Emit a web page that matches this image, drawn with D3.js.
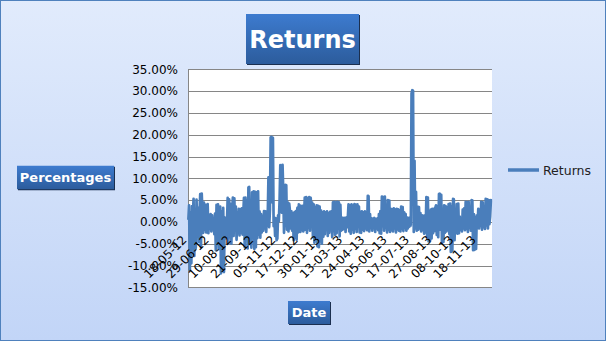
<!DOCTYPE html>
<html>
<head>
<meta charset="utf-8">
<script src="https://cdn.jsdelivr.net/npm/d3@7"></script>
<style>
  html, body { margin: 0; padding: 0; background: #fff; }
  svg { display: block; font-family: 'DejaVu Sans', sans-serif; }
</style>
</head>
<body>
<svg id="chart" width="606" height="341"></svg>
<script>
// daily returns in percent (30 trading days per block)
const returns = [
  // 18-05-12
  0.5, 3.8, -11, 2.1, -9.5, 3.6, 1.2, 5.3, -7.8, 2.4, -6, 5.1, -1.5, 3.2, -4.6, 1.8, 6.4, -5.8, 6.5, 2.2, -2.5, 4.4, -1.8, 3.9, -2.4, 0.8, 4.1, -2.6, 1.5, -0.8,
  // 29-06-12
  1.8, -2.2, 1.5, -1.2, 0.6, -2.8, 1.9, -6.5, 3.9, -4.2, 4.0, -6.2, 2.7, 3.5, -11.8, 2.4, -10.5, 3.2, -11.5, 1.0, -3.8, 0.4, -0.8, 5.5, -4.9, 5.2, -3.5, 4.1, -5.0, 2.6,
  // 10-08-12
  5.6, -3.2, 5.4, -1.8, 3.5, -4.1, 2.2, -2.6, 3.0, -3.1, 2.8, -2.4, 3.1, -2.9, 1.7, 5.5, -5.8, 5.6, -3.4, 4.8, -6.1, 7.9, 8.0, -4.5, 3.2, -5.9, 6.8, -2.2, 7.0, -6.2,
  // 21-09-12
  6.9, -5.8, 6.8, -3.7, 7.0, -2.9, 2.4, -3.6, 1.8, -2.4, 1.2, -2.0, 2.5, -1.5, 2.4, -2.3, 1.6, 0.9, 10.2, -1.2, 2.8, 19.4, 19.5, 4.5, 19.3, -1.0, 1.0, -3.2, 0.8, -4.2,
  // 05-11-12
  -3.8, 1.5, 0.2, 4.8, 13.0, 12.9, 2.1, 13.1, 6.9, -2.5, 3.2, 8.5, 8.4, -1.8, 4.5, -2.2, 4.2, 2.5, -1.5, 2.4, -2.0, 1.9, -4.2, 2.2, -3.6, 2.5, -4.1, 3.2, -2.4, 4.0,
  // 17-12-12
  3.8, -2.3, 3.6, -1.9, 3.7, -2.2, 1.5, 5.6, -1.8, 5.7, -2.5, 5.4, -1.4, 5.7, -2.0, 5.5, -0.8, 4.4, -3.5, 4.0, -4.8, 3.2, -3.9, 3.8, -5.6, 3.7, -5.8, 3.5, -4.5, 2.6,
  // 30-01-13
  -5.0, 2.2, -3.4, 2.4, -2.8, 2.2, -1.6, 2.4, -3.2, 1.9, -2.5, 2.3, -1.9, 2.4, -3.5, 4.5, -2.1, 4.6, -3.0, 4.4, -2.6, 4.6, -1.5, 4.5, -3.3, 3.9, -2.0, 1.0, -1.8, 0.9,
  // 13-03-13
  -1.5, 0.9, -2.3, 1.0, -1.2, 0.8, 4.0, -2.2, 3.8, -2.7, 4.0, -1.8, 3.6, -2.5, 4.1, -1.6, 3.9, -2.3, 4.0, -1.0, 3.5, -2.4, 2.3, -2.5, 2.4, -1.8, 2.2, -2.1, 2.4, -1.5,
  // 24-04-13
  2.1, -1.9, 6.0, 5.9, -2.2, 1.8, -1.4, 0.8, -2.0, 0.7, -1.1, 0.9, -2.3, 0.6, -1.5, 0.8, -1.9, 1.8, -2.6, 2.5, -2.7, 5.8, -1.0, 5.7, -2.0, 5.8, -1.4, 2.8, -2.4, 5.0,
  // 05-06-13
  -1.8, 4.9, -2.3, 3.0, -1.9, 2.9, -2.2, 3.1, -1.5, 2.8, -2.4, 3.0, -1.7, 2.9, -2.0, 2.6, -2.2, 3.5, -1.6, 3.4, -2.1, 2.2, -1.4, 1.8, -2.0, 1.0, -1.5, 0.9, -1.1, 1.0,
  // 17-07-13
  -0.8, 29.5, 30.2, 30.1, -2.3, 14.0, -1.5, 6.9, -2.0, 3.5, -1.8, 3.4, -1.5, 2.0, -2.2, 1.5, -1.8, 1.4, -2.7, 1.5, -2.4, 5.7, -3.3, 5.6, -4.5, 2.4, -4.4, 2.8, -3.8, 3.0,
  // 27-08-13
  -2.6, 3.0, -2.1, 3.2, 3.8, -3.0, 3.7, -3.5, 6.4, 6.5, -1.8, 6.2, -4.8, 2.5, -4.6, 3.8, -2.5, 3.6, -2.2, 3.2, -1.9, 4.1, -2.8, 4.2, -6.9, 3.5, -6.7, 5.3, 5.2, -4.2,
  // 08-10-13
  2.8, -2.5, 4.1, -2.7, 4.2, -2.6, 1.2, -1.8, 0.6, -2.2, 2.8, -1.5, 3.1, -1.9, 4.6, -1.6, 4.5, -2.3, 4.6, -1.4, 2.9, -2.0, 5.0, 4.9, -6.5, 1.8, -6.4, 0.9, -6.2, 1.5,
  // 18-11-13
  -1.2, 3.0, -1.5, 2.9, -0.9, 4.6, -1.8, 4.5, -1.2, 1.5, -1.6, 5.3, -0.8, 5.2, -1.5, 5.0, -0.5, 1.2, 5.0, 4.9
]

const dateLabels = ['18-05-12', '29-06-12', '10-08-12', '21-09-12', '05-11-12', '17-12-12', '30-01-13',
  '13-03-13', '24-04-13', '05-06-13', '17-07-13', '27-08-13', '08-10-13', '18-11-13']
const labelEvery = 30

const yTicks = [-15, -10, -5, 0, 5, 10, 15, 20, 25, 30, 35]

const seriesName = 'Returns'
const chartTitle = 'Returns'
const xTitle = 'Date'
const yTitle = 'Percentages'

const W = 606
const H = 341
const plot = { left: 188, right: 492, top: 69.3, bottom: 287.3 }
const lineColor = '#4a7ebb'
const gridColor = '#868686'

const svg = d3.select('#chart')
const defs = svg.append('defs')

// chart background
const bg = defs.append('linearGradient')
  .attr('id', 'bg').attr('x1', 0).attr('y1', 0).attr('x2', 0).attr('y2', 1)
bg.append('stop').attr('offset', '0%').attr('stop-color', '#e1ebfc')
bg.append('stop').attr('offset', '100%').attr('stop-color', '#c2d5f7')

const boxFill = defs.append('linearGradient')
  .attr('id', 'box').attr('x1', 0).attr('y1', 0).attr('x2', 0).attr('y2', 1)
boxFill.append('stop').attr('offset', '0%').attr('stop-color', '#3d7bcf')
boxFill.append('stop').attr('offset', '100%').attr('stop-color', '#2c5c9c')

svg.append('rect')
  .attr('x', 0.5).attr('y', 0.5)
  .attr('width', W - 1).attr('height', H - 1)
  .attr('fill', 'url(#bg)')
  .attr('stroke', '#4f81bd')

// plot area
svg.append('rect')
  .attr('x', plot.left).attr('y', plot.top)
  .attr('width', plot.right - plot.left).attr('height', plot.bottom - plot.top)
  .attr('fill', '#fff')

const x = d3.scaleBand()
  .domain(d3.range(returns.length))
  .range([plot.left, plot.right])

const y = d3.scaleLinear()
  .domain([yTicks[0], yTicks[yTicks.length - 1]])
  .range([plot.bottom, plot.top])

const cx = i => x(i) + x.bandwidth() / 2

// gridlines
svg.append('g')
  .selectAll('line')
  .data(yTicks)
  .enter().append('line')
  .attr('x1', plot.left).attr('x2', plot.right)
  .attr('y1', d => Math.round(y(d)) + 0.5)
  .attr('y2', d => Math.round(y(d)) + 0.5)
  .attr('stroke', gridColor)
  .attr('stroke-width', 1)

// y axis
const yAxis = svg.append('g')
  .attr('transform', `translate(${plot.left},0)`)
  .call(d3.axisLeft(y).tickValues(yTicks).tickSize(0).tickPadding(10)
    .tickFormat(d => d.toFixed(2) + '%'))

yAxis.select('.domain')
  .attr('stroke', gridColor)
  .attr('d', `M0.5,${plot.top}V${plot.bottom}`)

yAxis.selectAll('text')
  .attr('font-size', 12)
  .attr('font-family', "'DejaVu Sans', sans-serif")
  .attr('fill', '#000')

// the series
const line = d3.line()
  .x((d, i) => cx(i))
  .y(d => y(d))

svg.append('path')
  .datum(returns)
  .attr('d', line)
  .attr('fill', 'none')
  .attr('stroke', lineColor)
  .attr('stroke-width', 2.7)
  .attr('stroke-linejoin', 'round')

// x axis crosses at 0
const y0 = Math.round(y(0)) + 0.5
const xAxis = svg.append('g')
  .attr('transform', `translate(0,${y0})`)
  .call(d3.axisBottom(x)
    .tickValues(dateLabels.map((d, i) => i * labelEvery))
    .tickSize(0)
    .tickFormat(i => dateLabels[i / labelEvery]))

xAxis.select('.domain').remove()

xAxis.selectAll('text')
  .attr('font-size', 12)
  .attr('font-family', "'DejaVu Sans', sans-serif")
  .attr('fill', '#000')
  .attr('text-anchor', 'end')
  .attr('x', 0).attr('y', 0).attr('dy', 0)
  .attr('transform', 'translate(-1,18) rotate(-45)')

// title boxes
const titleBox = (cxp, cyp, w, h, text, size) => {
  const g = svg.append('g')
  g.append('rect')
    .attr('x', cxp - w / 2 + 1).attr('y', cyp - h / 2 + 1)
    .attr('width', w).attr('height', h)
    .attr('fill', '#1b2f4f')
  g.append('rect')
    .attr('x', cxp - w / 2).attr('y', cyp - h / 2)
    .attr('width', w).attr('height', h)
    .attr('fill', 'url(#box)')
  g.append('text')
    .attr('x', cxp).attr('y', cyp)
    .attr('dy', '0.36em')
    .attr('text-anchor', 'middle')
    .attr('font-weight', 'bold')
    .attr('font-size', size)
    .attr('fill', '#fff')
    .text(text)
}

titleBox(302.5, 39, 113, 50, chartTitle, 24)
titleBox(65.5, 177.5, 97, 23.5, yTitle, 13)
titleBox(309, 312.5, 42, 23, xTitle, 13)

// legend
const legend = svg.append('g').attr('transform', 'translate(508,170)')
legend.append('line')
  .attr('x1', 0).attr('x2', 31)
  .attr('stroke', lineColor)
  .attr('stroke-width', 3.5)
legend.append('text')
  .attr('x', 35).attr('dy', '0.36em')
  .attr('font-size', 12.5)
  .attr('fill', '#222')
  .text(seriesName)
</script>
</body>
</html>
